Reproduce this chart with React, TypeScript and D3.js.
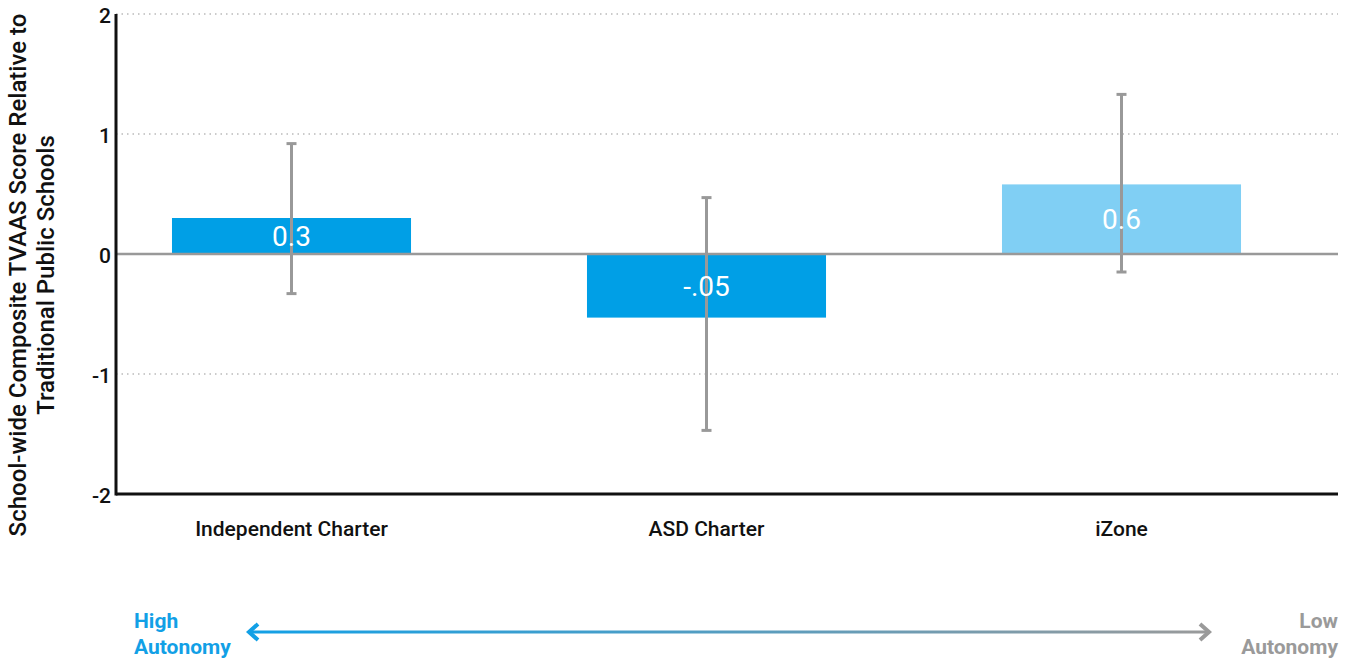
import React from "react";
import * as d3 from "d3";

const categories = ["Independent Charter", "ASD Charter", "iZone"];
const values = [0.3, -0.53, 0.58];
const valueLabels = ["0.3", "-.05", "0.6"];
const errLow = [-0.33, -1.47, -0.15];
const errHigh = [0.92, 0.47, 1.33];
const barColors = ["#009fe6", "#009fe6", "#80cff4"];
const yTicks = [-2, -1, 0, 1, 2];

const W = 1348;
const H = 660;

export default function App() {
  const x = d3.scaleBand<string>().domain(categories).range([84, 1329]).paddingInner(0.424).paddingOuter(0.212);
  const y = d3.scaleLinear().domain([-2, 2]).range([494, 14]);
  const left = 116;
  const right = 1338;
  const font = "Roboto, 'Noto Sans', sans-serif";
  const bw = x.bandwidth();
  return (
    <svg width={W} height={H} style={{ position: "absolute", left: 0, top: 0, fontFamily: font }}>
      <defs>
        <linearGradient id="arrowGrad" gradientUnits="userSpaceOnUse" x1={250} x2={1210} y1={0} y2={0}>
          <stop offset="0%" stopColor="#12a0e6" />
          <stop offset="100%" stopColor="#9a9a9a" />
        </linearGradient>
      </defs>
      {yTicks.filter((t) => t !== 0 && t !== -2).map((t) => (
        <line key={"g" + t} x1={left} x2={right} y1={y(t)} y2={y(t)} stroke="#bbbbbb" strokeWidth={1.5} strokeDasharray="1.5 4" />
      ))}
      {yTicks.map((t) => (
        <text key={"t" + t} x={left - 5} y={y(t)} dy="0.45em" textAnchor="end" fontSize={21} fontWeight={500} fill="#111">
          {t}
        </text>
      ))}
      {categories.map((c, i) => {
        const v = values[i];
        const y0 = y(Math.max(0, v));
        const h = Math.abs(y(v) - y(0));
        return <rect key={c} x={x(c)} y={y0} width={bw} height={h} fill={barColors[i]} />;
      })}
      <line x1={left} x2={right} y1={y(0)} y2={y(0)} stroke="#999" strokeWidth={2.5} />
      {categories.map((c, i) => {
        const cx = (x(c) as number) + bw / 2;
        return (
          <g key={"e" + c} stroke="#999" strokeWidth={3}>
            <line x1={cx} x2={cx} y1={y(errHigh[i])} y2={y(errLow[i])} />
            <line x1={cx - 5} x2={cx + 5} y1={y(errHigh[i])} y2={y(errHigh[i])} />
            <line x1={cx - 5} x2={cx + 5} y1={y(errLow[i])} y2={y(errLow[i])} />
          </g>
        );
      })}
      {categories.map((c, i) => {
        const cx = (x(c) as number) + bw / 2;
        const v = values[i];
        const ym = (y(v) + y(0)) / 2;
        return (
          <text key={"l" + c} x={cx} y={ym} dy="0.36em" textAnchor="middle" fontSize={28} fill="#fff">
            {valueLabels[i]}
          </text>
        );
      })}
      <line x1={left} x2={left} y1={y(2)} y2={y(-2) + 1.5} stroke="#111" strokeWidth={3} />
      <line x1={left} x2={right} y1={y(-2)} y2={y(-2)} stroke="#111" strokeWidth={3} />
      {categories.map((c) => (
        <text key={"c" + c} x={(x(c) as number) + bw / 2} y={529} dy="0.35em" textAnchor="middle" fontSize={21} fontWeight={500} fill="#111">
          {c}
        </text>
      ))}
      <g transform="translate(32,275) rotate(-90)">
        <text x={0} y={-14} dy="0.35em" textAnchor="middle" fontSize={24} fontWeight={500} fill="#111">
          School-wide Composite TVAAS Score Relative to
        </text>
        <text x={0} y={14} dy="0.35em" textAnchor="middle" fontSize={24} fontWeight={500} fill="#111">
          Traditional Public Schools
        </text>
      </g>
      <line x1={250} x2={1208} y1={632} y2={632} stroke="url(#arrowGrad)" strokeWidth={3} />
      <polyline points="258,624 249,632 258,640" fill="none" stroke="#12a0e6" strokeWidth={4} strokeLinejoin="miter" />
      <polyline points="1200,624 1209,632 1200,640" fill="none" stroke="#9a9a9a" strokeWidth={4} strokeLinejoin="miter" />
      <text x={134} y={621} dy="0.35em" fontSize={21} fontWeight={700} fill="#12a0e6">High</text>
      <text x={134} y={647} dy="0.35em" fontSize={21} fontWeight={700} fill="#12a0e6">Autonomy</text>
      <text x={1338} y={621} dy="0.35em" textAnchor="end" fontSize={21} fontWeight={700} fill="#9a9a9a">Low</text>
      <text x={1338} y={647} dy="0.35em" textAnchor="end" fontSize={21} fontWeight={700} fill="#9a9a9a">Autonomy</text>
    </svg>
  );
}
